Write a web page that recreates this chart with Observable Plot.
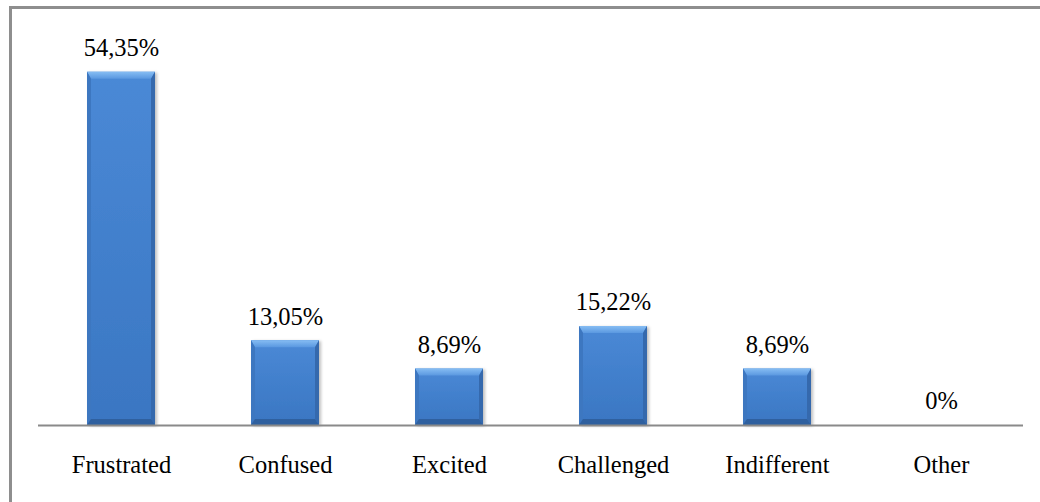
<!DOCTYPE html>
<html>
<head>
<meta charset="utf-8">
<script src="https://cdn.jsdelivr.net/npm/d3@7"></script>
<script src="https://cdn.jsdelivr.net/npm/@observablehq/plot@0.6"></script>
<style>
  html, body { margin: 0; padding: 0; background: #fff; overflow: hidden; }
  #wrap { position: relative; width: 1040px; height: 502px; }
  #frame {
    position: absolute; left: 9px; top: 6px; width: 1100px; height: 600px;
    border-left: 3px solid #8e8e8e; border-top: 3px solid #8e8e8e;
    pointer-events: none;
  }
  #chart svg { display: block; }
</style>
</head>
<body>
<div id="wrap">
  <div id="frame"></div>
  <div id="chart"></div>
</div>
<script>
// Share of respondents by reported feeling
const categories = ["Frustrated", "Confused", "Excited", "Challenged", "Indifferent", "Other"];
const percents = [54.35, 13.05, 8.69, 15.22, 8.69, 0];
const valueLabels = ["54,35%", "13,05%", "8,69%", "15,22%", "8,69%", "0%"];

const rows = categories.map((c, i) => ({category: c, value: percents[i], label: valueLabels[i]}));

const SERIF = "Times New Roman, Liberation Serif, serif";
const SVGNS = "http://www.w3.org/2000/svg";

function el(name, attrs) {
  const e = document.createElementNS(SVGNS, name);
  for (const k in attrs) e.setAttribute(k, attrs[k]);
  return e;
}

// Decorate each rendered bar with a bevelled, gradient-filled look
function bevel(index, scales, values, dimensions, context, next) {
  const g = next(index, scales, values, dimensions, context);
  const defs = el("defs", {});
  const grad = el("linearGradient", {id: "barBody", x1: 0, y1: 0, x2: 0, y2: 1});
  grad.append(el("stop", {offset: "0%", "stop-color": "#4a89d6"}));
  grad.append(el("stop", {offset: "100%", "stop-color": "#3a76c2"}));
  const topGrad = el("linearGradient", {id: "barTop", x1: 0, y1: 0, x2: 0, y2: 1});
  topGrad.append(el("stop", {offset: "0%", "stop-color": "#86bdf3"}));
  topGrad.append(el("stop", {offset: "100%", "stop-color": "#5a98e0"}));
  const shadow = el("filter", {id: "barShadow", x: "-10%", y: "-10%", width: "130%", height: "130%"});
  shadow.append(el("feDropShadow", {dx: 2, dy: 1, stdDeviation: 1.5, "flood-color": "#000", "flood-opacity": 0.25}));
  defs.append(grad, topGrad, shadow);
  g.prepend(defs);

  g.querySelectorAll("rect").forEach(r => {
    const x = +r.getAttribute("x"), y = +r.getAttribute("y");
    const w = +r.getAttribute("width"), h = +r.getAttribute("height");
    if (!(h > 1)) { r.remove(); return; }
    r.setAttribute("fill", "url(#barBody)");
    r.setAttribute("filter", "url(#barShadow)");
    const bt = Math.min(7, h / 3), bs = 4, bb = Math.min(6, h / 3);
    const poly = (pts, fill) => {
      const p = el("polygon", {points: pts.map(q => q.join(",")).join(" "), fill});
      r.after(p);
      return p;
    };
    // bottom, sides, then top bevel
    poly([[x, y + h], [x + bs, y + h - bb], [x + w - bs, y + h - bb], [x + w, y + h]], "#2f609f");
    poly([[x + w, y], [x + w - bs, y + bt], [x + w - bs, y + h - bb], [x + w, y + h]], "#3569ad");
    poly([[x, y], [x + bs, y + bt], [x + bs, y + h - bb], [x, y + h]], "#3d77c0");
    poly([[x, y], [x + w, y], [x + w - bs, y + bt], [x + bs, y + bt]], "url(#barTop)");
  });
  return g;
}

const chart = Plot.plot({
  width: 1040,
  height: 502,
  marginLeft: 38,
  marginRight: 17,
  marginTop: 35,
  marginBottom: 77,
  style: {fontFamily: SERIF, fontSize: "24.5px", color: "#000", background: "transparent", overflow: "visible"},
  x: {domain: categories, paddingInner: 0.586, paddingOuter: 0.293, label: null},
  y: {domain: [0, 60], axis: null},
  marks: [
    Plot.barY(rows, {x: "category", y: "value", fill: "#3f7ec9", render: bevel}),
    Plot.ruleY([0], {stroke: "#8a8a8a", strokeWidth: 2}),
    Plot.text(rows, {x: "category", y: "value", text: "label", dy: -24, fill: "#000", fontSize: 24.5, fontFamily: SERIF}),
    Plot.axisX({tickSize: 0, tickPadding: 30, fontSize: 24.5, fontFamily: SERIF, label: null})
  ]
});

document.getElementById("chart").append(chart);
</script>
</body>
</html>
